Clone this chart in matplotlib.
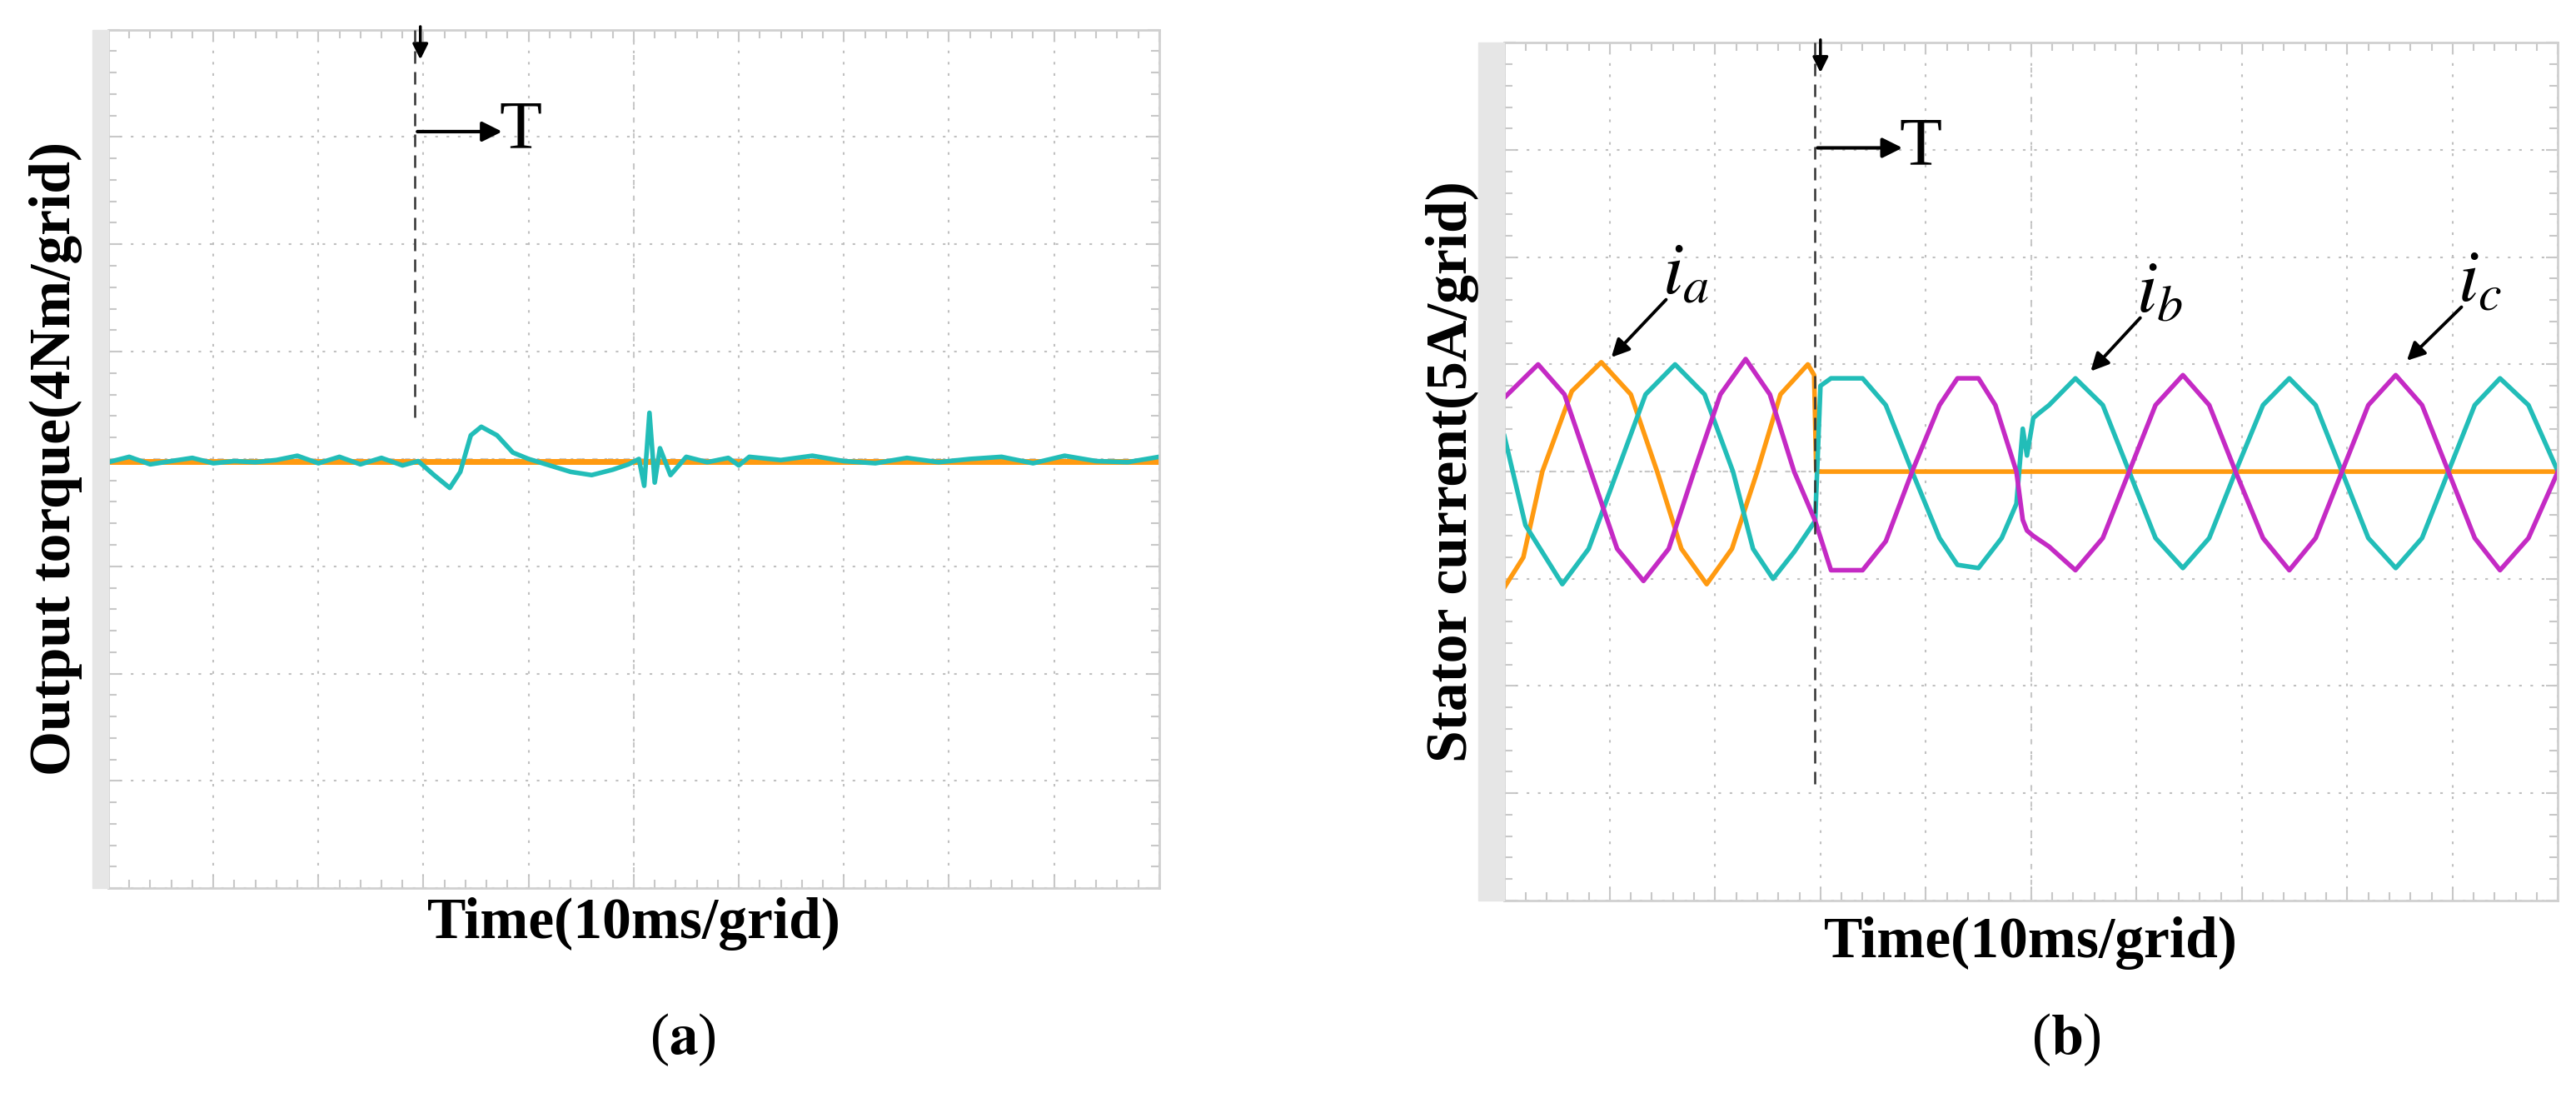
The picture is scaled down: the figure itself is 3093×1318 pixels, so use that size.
import matplotlib.pyplot as plt
import numpy as np

plt.rcParams['font.family'] = ['Liberation Serif', 'DejaVu Serif']
plt.rcParams['mathtext.fontset'] = 'stix'

ORANGE = '#FF9A10'
CYAN = '#22BDB8'
MAGENTA = '#C42AC4'

# ---- panel (a): output torque, grid units (10 x 8 divisions, centre = 0)
torque_x = [0, 0.2, 0.4, 0.6, 0.8, 1.0, 1.2, 1.4, 1.6, 1.8, 2.0, 2.2, 2.4, 2.6, 2.8, 2.95,
            3.1, 3.25, 3.35, 3.45, 3.55, 3.7, 3.85, 4.0, 4.2, 4.4, 4.6, 4.8, 4.95, 5.05,
            5.1, 5.15, 5.2, 5.25, 5.35, 5.5, 5.7, 5.9, 6.0, 6.1, 6.4, 6.7, 7.0, 7.3, 7.6,
            7.9, 8.2, 8.5, 8.8, 9.1, 9.4, 9.7, 10.0]
torque_cyan = [-0.03, 0.02, -0.05, -0.02, 0.01, -0.04, -0.02, -0.03, -0.01, 0.03, -0.04, 0.02,
               -0.05, 0.01, -0.06, -0.02, -0.15, -0.27, -0.12, 0.22, 0.3, 0.22, 0.06, 0.0,
               -0.06, -0.12, -0.15, -0.1, -0.05, 0.0, -0.25, 0.43, -0.22, 0.1, -0.15, 0.02,
               -0.03, 0.01, -0.06, 0.02, -0.01, 0.03, -0.02, -0.04, 0.01, -0.03, 0.0, 0.02,
               -0.04, 0.03, -0.02, -0.03, 0.02]
torque_orange_x = [0, 10]
torque_orange = [-0.02, -0.02]
trigger_a = 2.92

# ---- panel (b): stator currents
ia_x = [0, 0.18, 0.36, 0.64, 0.92, 1.2, 1.45, 1.68, 1.92, 2.16, 2.4, 2.62, 2.88, 2.94, 2.96, 10.0]
ia_y = [-1.08, -0.8, 0.0, 0.75, 1.02, 0.72, 0.0, -0.72, -1.05, -0.72, 0.0, 0.72, 1.0, 0.9, 0.0, 0.0]

ib_x = [0, 0.2, 0.55, 0.8, 1.07, 1.34, 1.62, 1.9, 2.17, 2.36, 2.55, 2.75, 2.95, 3.0, 3.1,
        3.4, 3.62, 3.87, 4.13, 4.3, 4.5, 4.72, 4.86, 4.92, 4.96, 5.02, 5.08, 5.17, 5.42,
        5.68, 5.93, 6.18, 6.44, 6.69, 6.94, 7.2, 7.45, 7.7, 7.95, 8.2, 8.46, 8.71, 8.96,
        9.21, 9.45, 9.72, 10.0]
ib_y = [0.33, -0.5, -1.05, -0.72, 0.0, 0.72, 1.0, 0.72, 0.0, -0.72, -1.0, -0.75, -0.46, 0.8,
        0.87, 0.87, 0.62, 0.0, -0.62, -0.87, -0.9, -0.62, -0.3, 0.4, 0.15, 0.5, 0.55, 0.62,
        0.87, 0.62, 0.0, -0.62, -0.9, -0.62, 0.0, 0.62, 0.87, 0.62, 0.0, -0.62, -0.9, -0.62,
        0.0, 0.62, 0.87, 0.62, 0.0]

ic_x = [0, 0.32, 0.57, 0.82, 1.07, 1.32, 1.56, 1.8, 2.05, 2.29, 2.52, 2.75, 2.95, 3.1, 3.4,
        3.62, 3.87, 4.13, 4.3, 4.5, 4.66, 4.86, 4.92, 4.96, 5.02, 5.17, 5.42, 5.68, 5.93,
        6.18, 6.44, 6.69, 6.94, 7.2, 7.45, 7.7, 7.95, 8.2, 8.46, 8.71, 8.96, 9.21, 9.45,
        9.72, 10.0]
ic_y = [0.69, 1.0, 0.72, 0.0, -0.72, -1.02, -0.72, 0.0, 0.72, 1.05, 0.72, 0.0, -0.46, -0.92,
        -0.92, -0.65, 0.0, 0.62, 0.87, 0.87, 0.62, 0.0, -0.45, -0.55, -0.6, -0.7, -0.92,
        -0.62, 0.0, 0.62, 0.9, 0.62, 0.0, -0.62, -0.92, -0.62, 0.0, 0.62, 0.9, 0.62, 0.0,
        -0.62, -0.92, -0.62, 0.0]
trigger_b = 2.95


def scope_axes(ax):
    ax.set_xlim(0, 10)
    ax.set_ylim(-4, 4)
    ax.set_xticks(range(11))
    ax.set_yticks(range(-4, 5))
    ax.set_xticks(np.arange(0, 10.01, 0.2), minor=True)
    ax.set_yticks(np.arange(-4, 4.01, 0.2), minor=True)
    ax.tick_params(which='both', direction='in', colors='#c8c8c8', labelleft=False,
                   labelbottom=False, top=True, right=True)
    ax.tick_params(which='major', length=10, width=1.5)
    ax.tick_params(which='minor', length=7, width=1.5)
    ax.grid(True, which='major', linestyle=(0, (1.5, 5)), color='#c0c0c0', lw=1.5)
    ax.axvline(5, color='#c8c8c8', lw=1.5, ls=(0, (3, 6)))
    ax.axhline(0, color='#c8c8c8', lw=1.5, ls=(0, (3, 6)))
    for s in ax.spines.values():
        s.set_color('#d0d0d0')
        s.set_linewidth(2)


def trigger(ax, x0, y_bottom, arrow_y):
    ax.plot([x0, x0], [4, y_bottom], color='#333333', lw=1.8, ls=(0, (6, 4)), zorder=5)
    ax.annotate('', xy=(x0 + 0.05, 3.7), xytext=(x0 + 0.05, 4.05),
                arrowprops=dict(arrowstyle='-|>', color='k', lw=2.5, mutation_scale=28),
                annotation_clip=False)
    ax.annotate('', xy=(x0 + 0.85, arrow_y), xytext=(x0, arrow_y),
                arrowprops=dict(arrowstyle='-|>', color='k', lw=3, mutation_scale=36))
    ax.text(x0 + 0.8, arrow_y, 'T', fontsize=60, va='center', ha='left')


fig = plt.figure(figsize=(30.93, 13.18), dpi=100)

# (a)
ax1 = fig.add_axes([0.042, 0.191, 0.408, 0.782])
scope_axes(ax1)
ax1.plot(torque_orange_x, torque_orange, color=ORANGE, lw=5)
ax1.plot(torque_x, torque_cyan, color=CYAN, lw=4)
ax1.plot(-0.08, -1.0, marker='P', color=CYAN, ms=10, clip_on=False)
trigger(ax1, trigger_a, 0.35, 3.05)
ax1.set_xlabel('Time(10ms/grid)', fontsize=50, fontweight='bold', labelpad=8)
ax1.set_ylabel('Output torque(4Nm/grid)', fontsize=50, fontweight='bold', labelpad=22)
fig.add_artist(plt.Rectangle((0.036, 0.191), 0.006, 0.782, color='#e6e6e6',
                             transform=fig.transFigure))
fig.text(0.265, 0.04, r'($\mathbf{a}$)', fontsize=50, ha='center')

# (b)
ax2 = fig.add_axes([0.584, 0.180, 0.409, 0.781])
scope_axes(ax2)
ax2.plot(ia_x, ia_y, color=ORANGE, lw=4)
ax2.plot(ib_x, ib_y, color=CYAN, lw=4)
ax2.plot(ic_x, ic_y, color=MAGENTA, lw=4)
ax2.plot(-0.08, 0.0, marker='P', color=MAGENTA, ms=10, clip_on=False)
trigger(ax2, trigger_b, -2.92, 3.02)
ax2.set_xlabel('Time(10ms/grid)', fontsize=50, fontweight='bold', labelpad=14)
ax2.set_ylabel('Stator current(5A/grid)', fontsize=50, fontweight='bold', labelpad=22)
fig.add_artist(plt.Rectangle((0.574, 0.180), 0.010, 0.781, color='#e6e6e6',
                             transform=fig.transFigure))
fig.text(0.802, 0.04, r'($\mathbf{b}$)', fontsize=50, ha='center')

arrow_kw = dict(arrowstyle='-|>', color='k', lw=2.8, mutation_scale=32)
for label, xy, xt in [('a', (1.0, 1.05), (1.55, 1.62)),
                      ('b', (5.55, 0.92), (6.05, 1.45)),
                      ('c', (8.55, 1.02), (9.1, 1.55))]:
    ax2.annotate('', xy=xy, xytext=xt, arrowprops=arrow_kw)
    ax2.text(xt[0] - 0.05, xt[1] - 0.1, r'$i_{%s}$' % label, fontsize=64, ha='left', va='bottom')

fig.savefig('out.png', dpi=100)
